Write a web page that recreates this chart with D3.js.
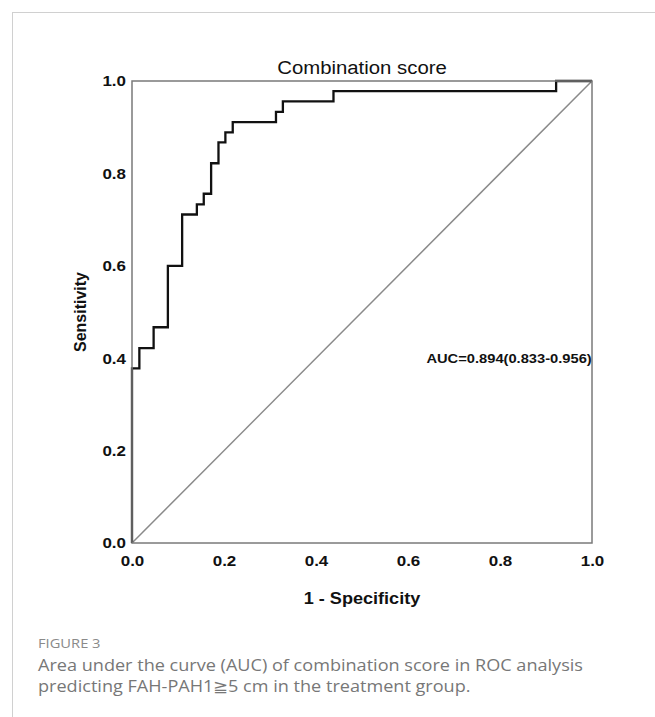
<!DOCTYPE html>
<html>
<head>
<meta charset="utf-8">
<script src="https://cdn.jsdelivr.net/npm/d3@7"></script>
<style>
  body { margin: 0; background: #fff; }
  .tick text { font-family: Arial, "Liberation Sans", sans-serif; font-weight: bold; font-size: 15px; fill: #111; }
  .axis-label { font-family: Arial, "Liberation Sans", sans-serif; font-weight: bold; font-size: 16px; fill: #111; }
</style>
</head>
<body>
<div id="chart"></div>
<script>
// ROC curve vertices (1 - specificity, sensitivity)
const fprValues  = [0, 0, 0.016, 0.016, 0.047, 0.047, 0.078, 0.078, 0.109, 0.109, 0.141, 0.141, 0.156, 0.156, 0.172, 0.172, 0.188, 0.188, 0.203, 0.203, 0.219, 0.219, 0.313, 0.313, 0.328, 0.328, 0.438, 0.438, 0.922, 0.922, 1.0];
const sensValues = [0, 0.378, 0.378, 0.422, 0.422, 0.467, 0.467, 0.600, 0.600, 0.711, 0.711, 0.733, 0.733, 0.756, 0.756, 0.822, 0.822, 0.867, 0.867, 0.889, 0.889, 0.911, 0.911, 0.933, 0.933, 0.956, 0.956, 0.978, 0.978, 1.0, 1.0];
const tickValues = [0, 0.2, 0.4, 0.6, 0.8, 1.0];
const chartTitle = 'Combination score';
const aucLabel = 'AUC=0.894(0.833-0.956)';
const captionHead = 'FIGURE 3';
const captionLines = [
  'Area under the curve (AUC) of combination score in ROC analysis',
  'predicting FAH-PAH1\u22675 cm in the treatment group.'
];

const width = 655, height = 717;
const margin = { top: 81, left: 132 };
const plotW = 460, plotH = 462;
const stretch = 1.13; // the source image is a little wider than tall

const svg = d3.select('#chart').append('svg')
  .attr('width', width)
  .attr('height', height);

// page frame lines (top and left)
svg.append('line')
  .attr('x1', 12).attr('x2', width).attr('y1', 12.5).attr('y2', 12.5)
  .attr('stroke', '#d0d0d0').attr('stroke-width', 1);
svg.append('line')
  .attr('x1', 12.5).attr('x2', 12.5).attr('y1', 12).attr('y2', height)
  .attr('stroke', '#d0d0d0').attr('stroke-width', 1);

const g = svg.append('g')
  .attr('transform', `translate(${margin.left},${margin.top})`);

const x = d3.scaleLinear().domain([0, 1]).range([0, plotW]);
const y = d3.scaleLinear().domain([0, 1]).range([plotH, 0]);

// axes (no tick marks, labels only)
const xAxis = d3.axisBottom(x).tickValues(tickValues).tickSize(0).tickPadding(12).tickFormat(d3.format('.1f'));
const yAxis = d3.axisLeft(y).tickValues(tickValues).tickSize(0).tickPadding(6).tickFormat(d3.format('.1f'));

g.append('g')
  .attr('transform', `translate(0,${plotH})`)
  .call(xAxis)
  .call(a => a.select('.domain').remove());
g.append('g')
  .call(yAxis)
  .call(a => a.select('.domain').remove());

// reference diagonal
g.append('line')
  .attr('x1', x(0)).attr('y1', y(0))
  .attr('x2', x(1)).attr('y2', y(1))
  .attr('stroke', '#8a8a8a')
  .attr('stroke-width', 1.5);

// ROC curve
const points = fprValues.map((f, i) => [f, sensValues[i]]);
const line = d3.line()
  .x(d => x(d[0]))
  .y(d => y(d[1]));
g.append('path')
  .datum(points)
  .attr('fill', 'none')
  .attr('stroke', '#111')
  .attr('stroke-width', 2.3)
  .attr('d', line);

// plot frame
g.append('rect')
  .attr('x', 0).attr('y', 0)
  .attr('width', plotW).attr('height', plotH)
  .attr('fill', 'none')
  .attr('stroke', '#7a7a7a')
  .attr('stroke-width', 1.5);

// title
svg.append('text')
  .attr('x', margin.left + plotW / 2)
  .attr('y', 74)
  .attr('text-anchor', 'middle')
  .style('font-family', 'Arial, "Liberation Sans", sans-serif')
  .style('font-size', '18px')
  .style('fill', '#111')
  .text(chartTitle);

// axis labels
svg.append('text')
  .attr('class', 'axis-label')
  .attr('x', margin.left + plotW / 2)
  .attr('y', 604)
  .attr('text-anchor', 'middle')
  .text('1 - Specificity');

svg.append('text')
  .attr('class', 'axis-label no-stretch')
  .attr('transform', `translate(86,${margin.top + plotH / 2}) rotate(-90)`)
  .attr('text-anchor', 'middle')
  .text('Sensitivity');

// AUC annotation
g.append('text')
  .attr('x', x(0.64))
  .attr('y', y(0.4) + 5)
  .style('font-family', 'Arial, "Liberation Sans", sans-serif')
  .style('font-weight', 'bold')
  .style('font-size', '13px')
  .style('fill', '#111')
  .text(aucLabel);

// caption
svg.append('text')
  .attr('x', 38)
  .attr('y', 648)
  .style('font-family', '"Open Sans", sans-serif')
  .style('font-size', '13px')
  .style('fill', '#8a8a8a')
  .text(captionHead);

captionLines.forEach((t, i) => {
  svg.append('text')
    .attr('x', 38)
    .attr('y', 671 + i * 21)
    .style('font-family', '"Open Sans", sans-serif')
    .style('font-size', '16px')
    .style('fill', '#777')
    .text(t);
});

// widen horizontal text a little to match the source proportions
svg.selectAll('text:not(.no-stretch)').each(function() {
  const len = this.getComputedTextLength();
  d3.select(this)
    .attr('textLength', len * stretch)
    .attr('lengthAdjust', 'spacingAndGlyphs');
});
</script>
</body>
</html>
